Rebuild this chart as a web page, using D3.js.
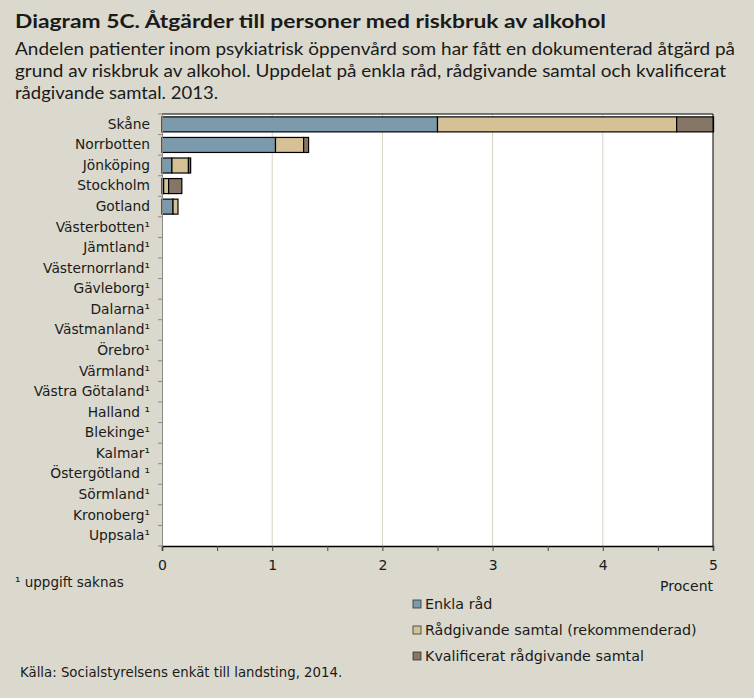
<!DOCTYPE html>
<html>
  <head>
    <meta charset="utf-8">
    <title>Diagram 5C</title>
    <script src="https://cdn.jsdelivr.net/npm/d3@7/dist/d3.min.js"></script>
    <style>
      body { margin: 0; background: #dbd9cd; }
      text { font-family: "DejaVu Sans", sans-serif; fill: #1a1a1a; }
      .head { font-family: "Lato", "DejaVu Sans", sans-serif; }
    </style>
  </head>
  <body>
    <svg width="754" height="698" id="mainsvg"></svg>
    <script>
      // data
      const regions = ['Skåne', 'Norrbotten', 'Jönköping', 'Stockholm', 'Gotland',
        'Västerbotten¹', 'Jämtland¹', 'Västernorrland¹', 'Gävleborg¹', 'Dalarna¹',
        'Västmanland¹', 'Örebro¹', 'Värmland¹', 'Västra Götaland¹', 'Halland ¹',
        'Blekinge¹', 'Kalmar¹', 'Östergötland ¹', 'Sörmland¹', 'Kronoberg¹', 'Uppsala¹'];
      const enklaRad   = [2.50, 1.03, 0.09, 0.015, 0.10, 0,0,0,0,0,0,0,0,0,0,0,0,0,0,0,0];
      const radgivande = [2.17, 0.255, 0.15, 0.045, 0.045, 0,0,0,0,0,0,0,0,0,0,0,0,0,0,0,0];
      const kvalif     = [0.335, 0.045, 0.02, 0.12, 0, 0,0,0,0,0,0,0,0,0,0,0,0,0,0,0,0];
      const seriesNames = ['Enkla råd', 'Rådgivande samtal (rekommenderad)', 'Kvalificerat rådgivande samtal'];
      const xTicks = [0, 1, 2, 3, 4, 5];

      const colors = ['#7b9aab', '#d5c195', '#867666'];

      const svg = d3.select('#mainsvg');
      const margin = {top: 114, left: 162, right: 41, bottom: 152};
      const width = +svg.attr('width');
      const height = +svg.attr('height');
      const innerWidth = width - margin.left - margin.right;
      const innerHeight = height - margin.top - margin.bottom;

      // titles
      svg.append('text').attr('class', 'head').attr('x', 15).attr('y', 28)
        .attr('font-size', 19).attr('font-weight', 'bold')
        .attr('textLength', 591).attr('lengthAdjust', 'spacingAndGlyphs')
        .text('Diagram 5C. Åtgärder till personer med riskbruk av alkohol');
      const sub = [
        ['Andelen patienter inom psykiatrisk öppenvård som har fått en dokumenterad åtgärd på', 720],
        ['grund av riskbruk av alkohol. Uppdelat på enkla råd, rådgivande samtal och kvalificerat', 711],
        ['rådgivande samtal. 2013.', 203]
      ];
      sub.forEach((s, i) => {
        svg.append('text').attr('class', 'head').attr('x', 15).attr('y', 55 + i * 22)
          .attr('font-size', 16.5)
          .attr('textLength', s[1]).attr('lengthAdjust', 'spacingAndGlyphs')
          .text(s[0]);
      });

      const g = svg.append('g').attr('transform', `translate(${margin.left}, ${margin.top})`);

      const xScale = d3.scaleLinear().domain([0, 5]).range([0, innerWidth]);
      const yScale = d3.scaleBand().domain(regions).range([0, innerHeight]).paddingInner(0.27).paddingOuter(0.14);
      const yBand = d3.scaleBand().domain(regions).range([0, innerHeight]);

      g.append('rect').attr('width', innerWidth).attr('height', innerHeight).attr('fill', '#fff');

      // gridlines
      g.selectAll('.grid').data(xTicks.slice(1, -1)).join('line')
        .attr('x1', d => xScale(d)).attr('x2', d => xScale(d))
        .attr('y1', 0).attr('y2', innerHeight)
        .attr('stroke', '#d6d3c2').attr('stroke-width', 1);

      // stacked bars
      const rows = regions.map((r, i) => ({region: r, values: [enklaRad[i], radgivande[i], kvalif[i]]}));
      const stack = d3.stack().keys([0, 1, 2]).value((d, k) => d.values[k]);
      const stacked = stack(rows);
      g.selectAll('.series').data(stacked).join('g')
        .attr('fill', (d, i) => colors[i])
        .selectAll('rect').data(d => d.filter(p => p[1] - p[0] > 0)).join('rect')
        .attr('x', d => xScale(d[0]))
        .attr('width', d => xScale(d[1]) - xScale(d[0]))
        .attr('y', d => yScale(d.data.region))
        .attr('height', yScale.bandwidth())
        .attr('stroke', '#000').attr('stroke-width', 1.2);

      // frame
      g.append('line').attr('x1', 0).attr('x2', innerWidth).attr('y1', 0).attr('y2', 0).attr('stroke', '#000');
      g.append('line').attr('x1', innerWidth).attr('x2', innerWidth).attr('y1', 0).attr('y2', innerHeight).attr('stroke', '#000');

      // x axis
      const xAxis = d3.axisBottom(xScale).tickValues(d3.range(0, 5.01, 0.5))
        .tickSize(5).tickFormat(d => Number.isInteger(d) ? d : '');
      const xg = g.append('g').attr('transform', `translate(0, ${innerHeight})`).call(xAxis);
      xg.select('.domain').attr('stroke', '#000').attr('stroke-width', 1.5);
      xg.selectAll('.tick line').attr('stroke', '#444');
      xg.selectAll('.tick text').attr('font-size', 14).attr('dy', '1.15em').attr('fill', '#1a1a1a')
        .attr('font-family', '"DejaVu Sans", sans-serif');

      // y axis
      const yAxis = d3.axisLeft(yBand).tickSize(0).tickPadding(12);
      const yg = g.append('g').call(yAxis);
      yg.select('.domain').attr('stroke', '#8a8a8a');
      yg.selectAll('.tick text').attr('font-size', 13.8).attr('fill', '#1a1a1a')
        .attr('font-family', '"DejaVu Sans", sans-serif');
      const edges = regions.map(r => yBand(r)).concat([innerHeight]);
      yg.selectAll('.ytick').data(edges).join('line')
        .attr('x1', -4).attr('x2', 0).attr('y1', d => d).attr('y2', d => d)
        .attr('stroke', '#8a8a8a');

      svg.append('text').attr('x', margin.left + innerWidth).attr('y', 591)
        .attr('text-anchor', 'end').attr('font-size', 14).text('Procent');
      svg.append('text').attr('x', 15).attr('y', 587).attr('font-size', 13.5).text('¹ uppgift saknas');

      // legend
      const leg = svg.append('g').attr('transform', 'translate(413, 606)');
      seriesNames.forEach((n, i) => {
        leg.append('rect').attr('x', 0).attr('y', i * 26 - 6).attr('width', 8).attr('height', 8)
          .attr('fill', colors[i]).attr('stroke', '#333').attr('stroke-width', 0.8);
        leg.append('text').attr('x', 12).attr('y', i * 26 + 3).attr('font-size', 14.3).text(n);
      });

      svg.append('text').attr('x', 20).attr('y', 677).attr('font-size', 13.3).text('Källa: Socialstyrelsens enkät till landsting, 2014.');
    </script>
  </body>
</html>
